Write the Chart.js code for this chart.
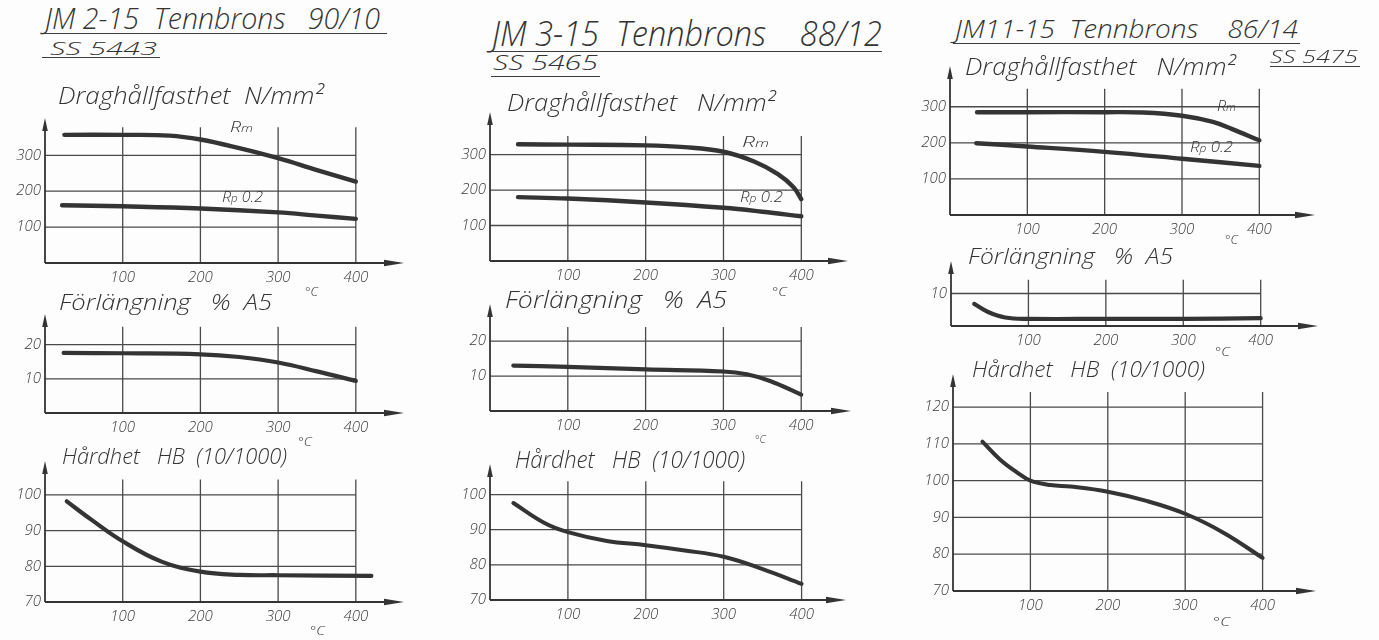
<!DOCTYPE html>
<html>
<head>
<meta charset="utf-8">
<script src="https://cdn.jsdelivr.net/npm/chart.js@4.4.1/dist/chart.umd.min.js"></script>
<style>
  html, body { margin: 0; padding: 0; background: #fdfdfd; }
  #page { position: relative; width: 1379px; height: 640px; overflow: hidden; background: #fdfdfd; }
  #page canvas { position: absolute; }
  .t { position: absolute; font-family: "Open Sans", "DejaVu Sans", sans-serif; font-style: italic; font-weight: 300;
       color: #333; white-space: nowrap; line-height: 1; transform-origin: 0 50%; }
  .u { position: absolute; height: 0; border-top: 1.6px solid #3d3d3d; }
  .sub { font-size: 0.72em; }
</style>
</head>
<body>
<div id="page"></div>
<script>
// ---- axis ticks ----
const tempTicks      = [100, 200, 300, 400];          // °C
const strengthTicks  = [100, 200, 300];               // N/mm²
const elongTicks     = [10, 20];                      // % A5
const elongTicksJM11 = [10];
const hardTicks      = [70, 80, 90, 100];             // HB
const hardTicksJM11  = [70, 80, 90, 100, 110, 120];

// ---- JM 2-15 Tennbrons 90/10 ----
const jm2RmTemp = [25, 100, 160, 200, 250, 300, 350, 400];
const jm2RmVal  = [357, 357, 355, 344, 320, 292, 259, 227];
const jm2RpTemp = [22, 100, 200, 300, 350, 400];
const jm2RpVal  = [161, 158, 152, 141, 132, 123];
const jm2ElTemp = [24, 100, 200, 250, 300, 350, 400];
const jm2ElVal  = [17.6, 17.5, 17.2, 16.4, 14.8, 12.2, 9.4];
const jm2HbTemp = [28, 60, 100, 150, 200, 250, 300, 420];
const jm2HbVal  = [98.2, 93, 87, 81.3, 78.5, 77.6, 77.5, 77.3];

// ---- JM 3-15 Tennbrons 88/12 ----
const jm3RmTemp = [36, 100, 200, 250, 300, 340, 370, 390, 400];
const jm3RmVal  = [329, 328, 326, 321, 308, 280, 245, 208, 174];
const jm3RpTemp = [36, 100, 200, 300, 350, 400];
const jm3RpVal  = [180, 176, 165, 150, 139, 126];
const jm3ElTemp = [30, 100, 200, 300, 330, 360, 400];
const jm3ElVal  = [13, 12.6, 11.9, 11.3, 10.5, 8.6, 4.7];
const jm3HbTemp = [30, 70, 100, 150, 200, 250, 300, 350, 400];
const jm3HbVal  = [97.6, 91.9, 89.3, 86.8, 85.6, 84.1, 82.3, 78.8, 74.6];

// ---- JM11-15 Tennbrons 86/14 ----
const jm11RmTemp = [35, 100, 200, 250, 300, 340, 365, 400];
const jm11RmVal  = [285, 285, 285, 284, 275, 258, 238, 207];
const jm11RpTemp = [34, 100, 200, 300, 400];
const jm11RpVal  = [199, 190, 175, 156, 136];
const jm11ElTemp = [30, 48, 70, 100, 200, 300, 400];
const jm11ElVal  = [6.8, 4.3, 2.6, 2.2, 2.2, 2.2, 2.4];
const jm11HbTemp = [38, 61, 83, 100, 126, 152, 200, 250, 300, 350, 400];
const jm11HbVal  = [110.6, 105.7, 102.2, 100, 98.8, 98.4, 97, 94.5, 91, 85.8, 79];

const INK  = '#343434';
const GRID = '#4a4a4a';
const FONT = '"Open Sans", "DejaVu Sans", sans-serif';
const page = document.getElementById('page');

// grid confined to 0–400 °C, plus arrowed axes
const framePlugin = {
  id: 'frame',
  beforeDatasetsDraw(chart, args, opts) {
    const { ctx } = chart;
    const x = chart.scales.x, y = chart.scales.y;
    const xL = x.getPixelForValue(0), xR = x.getPixelForValue(400);
    const yB = y.getPixelForValue(y.min), yT = y.getPixelForValue(opts.gridTop);
    ctx.save();
    ctx.strokeStyle = GRID;
    ctx.lineWidth = 1.3;
    ctx.beginPath();
    opts.yTicks.forEach(v => {
      if (v > y.min) {
        const py = y.getPixelForValue(v);
        ctx.moveTo(xL, py); ctx.lineTo(xR, py);
      }
    });
    tempTicks.forEach(v => {
      const px = x.getPixelForValue(v);
      ctx.moveTo(px, yB); ctx.lineTo(px, yT);
    });
    ctx.stroke();

    const xEnd = x.getPixelForValue(x.max), yTop = y.getPixelForValue(y.max);
    ctx.strokeStyle = INK;
    ctx.lineWidth = 1.8;
    ctx.beginPath();
    ctx.moveTo(xL, yB); ctx.lineTo(xEnd - 12, yB);
    ctx.moveTo(xL, yB); ctx.lineTo(xL, yTop + 8);
    ctx.stroke();
    ctx.fillStyle = INK;
    ctx.beginPath();
    ctx.moveTo(xEnd, yB); ctx.lineTo(xEnd - 20, yB - 3.2); ctx.lineTo(xEnd - 20, yB + 3.2); ctx.closePath();
    ctx.fill();
    ctx.beginPath();
    ctx.moveTo(xL, yTop); ctx.lineTo(xL - 2.8, yTop + 13); ctx.lineTo(xL + 2.8, yTop + 13); ctx.closePath();
    ctx.fill();
    ctx.restore();
  }
};

function series(temps, vals, width) {
  return {
    data: temps.map((t, i) => ({ x: t, y: vals[i] })),
    borderColor: INK,
    borderWidth: width,
    pointRadius: 0,
    fill: false,
    tension: 0.4,
    borderCapStyle: 'round',
    borderJoinStyle: 'round'
  };
}

// one small diagram: x0/y0 = pixel of the origin, sx/sy = pixels per unit
function diagram(g, yTicks, datasets) {
  const AXW = 48, AXH = 30, PADT = 2, PADR = 4;
  const plotW = g.xMax * g.sx;
  const plotH = (g.yMax - g.yMin) * g.sy;
  const W = Math.round(AXW + plotW + PADR), H = Math.round(PADT + plotH + AXH);
  const c = document.createElement('canvas');
  c.width = W; c.height = H;
  c.style.width = W + 'px'; c.style.height = H + 'px';
  c.style.left = (g.x0 - AXW) + 'px';
  c.style.top = (g.y0 - plotH - PADT) + 'px';
  page.appendChild(c);
  const tickFont = { family: FONT, size: 15, style: 'italic', weight: 300 };
  new Chart(c, {
    type: 'line',
    data: { datasets },
    options: {
      responsive: false,
      animation: false,
      events: [],
      layout: { padding: { top: PADT, right: PADR, left: 0, bottom: 0 } },
      plugins: { legend: { display: false }, tooltip: { enabled: false }, frame: { gridTop: g.gridTop, yTicks } },
      scales: {
        x: {
          type: 'linear', min: 0, max: g.xMax,
          grid: { display: false, drawTicks: false }, border: { display: false },
          afterBuildTicks: s => { s.ticks = tempTicks.map(v => ({ value: v })); },
          afterFit: s => { s.height = AXH; },
          ticks: { padding: 6, font: tickFont, color: '#3a3a3a', maxRotation: 0, autoSkip: false }
        },
        y: {
          type: 'linear', min: g.yMin, max: g.yMax,
          grid: { display: false, drawTicks: false }, border: { display: false },
          afterBuildTicks: s => { s.ticks = yTicks.map(v => ({ value: v })); },
          afterFit: s => { s.width = AXW; },
          ticks: { padding: 4, font: tickFont, color: '#3a3a3a', autoSkip: false }
        }
      }
    },
    plugins: [framePlugin]
  });
}

// hand-lettered captions, stretched to their drawn width
function put(html, x, cy, size, width) {
  const d = document.createElement('div');
  d.className = 't';
  d.innerHTML = html;
  d.style.fontSize = size + 'px';
  d.style.left = x + 'px';
  d.style.top = (cy - size * 0.53) + 'px';
  page.appendChild(d);
  if (width) {
    const w = d.getBoundingClientRect().width;
    d.style.transform = 'scaleX(' + (width / w) + ')';
  }
}
function rule(x1, x2, y) {
  const d = document.createElement('div');
  d.className = 'u';
  d.style.left = x1 + 'px'; d.style.width = (x2 - x1) + 'px'; d.style.top = y + 'px';
  page.appendChild(d);
}

// ===== JM 2-15 =====
diagram({ x0: 44.5, sx: 0.776, y0: 262.5, sy: 0.385, yMin: 0, yMax: 404, gridTop: 378, xMax: 462 },
  strengthTicks, [series(jm2RmTemp, jm2RmVal, 4.4), series(jm2RpTemp, jm2RpVal, 4.4)]);
diagram({ x0: 44.5, sx: 0.776, y0: 413, sy: 3.8, yMin: 0, yMax: 29, gridTop: 25.3, xMax: 462 },
  elongTicks, [series(jm2ElTemp, jm2ElVal, 4.2)]);
diagram({ x0: 44.5, sx: 0.776, y0: 602, sy: 3.85, yMin: 70, yMax: 109.5, gridTop: 104.3, xMax: 462 },
  hardTicks, [series(jm2HbTemp, jm2HbVal, 4.2)]);

put('JM 2-15&nbsp; Tennbrons&nbsp;&nbsp; 90/10', 45, 19, 30, 335);
rule(42, 387, 33);
put('SS 5443', 50, 48.5, 18, 107);
rule(42, 160, 57);
put('Draghållfasthet&nbsp; N/mm²', 58, 96, 24, 265);
put('R<span class="sub">m</span>', 230, 127, 15, 23);
put('R<span class="sub">p</span> 0.2', 222, 197, 14, 41);
put('°C', 305, 292, 13, 13);
put('Förlängning&nbsp;&nbsp; %&nbsp; A5', 59, 302, 22, 213);
put('°C', 298, 442, 12, 14);
put('Hårdhet&nbsp;&nbsp; HB&nbsp; (10/1000)', 62, 456, 22, 225);
put('°C', 310, 631, 13, 15);

// ===== JM 3-15 =====
diagram({ x0: 490, sx: 0.7775, y0: 261, sy: 0.38, yMin: 0, yMax: 420, gridTop: 352, xMax: 460 },
  strengthTicks, [series(jm3RmTemp, jm3RmVal, 4.4), series(jm3RpTemp, jm3RpVal, 4.4)]);
diagram({ x0: 489.5, sx: 0.778, y0: 411.5, sy: 3.87, yMin: 0, yMax: 30.6, gridTop: 24, xMax: 464 },
  elongTicks, [series(jm3ElTemp, jm3ElVal, 4.2)]);
diagram({ x0: 489.5, sx: 0.778, y0: 600, sy: 3.8, yMin: 70, yMax: 108.7, gridTop: 103.8, xMax: 457 },
  hardTicks, [series(jm3HbTemp, jm3HbVal, 4)]);

put('JM 3-15&nbsp; Tennbrons&nbsp;&nbsp;&nbsp; 88/12', 492, 34, 34, 390);
rule(490, 882, 51);
put('SS 5465', 493, 63.5, 20, 105);
rule(491, 600, 76);
put('Draghållfasthet&nbsp;&nbsp; N/mm²', 507, 103, 24, 268);
put('R<span class="sub">m</span>', 742, 142, 15, 27);
put('R<span class="sub">p</span> 0.2', 740, 197, 14, 43);
put('°C', 772, 292, 13, 15);
put('Förlängning&nbsp;&nbsp; %&nbsp; A5', 505, 300, 23, 222);
put('°C', 755, 439, 11, 11);
put('Hårdhet&nbsp;&nbsp; HB&nbsp; (10/1000)', 515, 460, 24, 230);

// ===== JM11-15 =====
diagram({ x0: 950, sx: 0.7733, y0: 215.5, sy: 0.388, yMin: 0, yMax: 413, gridTop: 350, xMax: 472 },
  strengthTicks, [series(jm11RmTemp, jm11RmVal, 4.4), series(jm11RpTemp, jm11RpVal, 4.4)]);
diagram({ x0: 950.5, sx: 0.7733, y0: 326, sy: 3.8, yMin: 0, yMax: 20, gridTop: 14.2, xMax: 474 },
  elongTicksJM11, [series(jm11ElTemp, jm11ElVal, 4.2)]);
diagram({ x0: 952.5, sx: 0.7733, y0: 591, sy: 3.86, yMin: 70, yMax: 129, gridTop: 124.1, xMax: 469 },
  hardTicksJM11, [series(jm11HbTemp, jm11HbVal, 4)]);

put('JM11-15&nbsp; Tennbrons&nbsp;&nbsp;&nbsp; 86/14', 955, 29, 25, 343);
rule(953, 1300, 43);
put('SS 5475', 1270, 56.5, 18, 88);
rule(1270, 1360, 66);
put('Draghållfasthet&nbsp;&nbsp; N/mm²', 965, 67, 24, 270);
put('R<span class="sub">m</span>', 1217, 106, 15, 19);
put('R<span class="sub">p</span> 0.2', 1190, 147, 14, 43);
put('°C', 1225, 240, 12, 13);
put('Förlängning&nbsp;&nbsp; %&nbsp; A5', 968, 256, 22, 205);
put('°C', 1215, 352, 12, 15);
put('Hårdhet&nbsp;&nbsp; HB&nbsp; (10/1000)', 972, 369, 22, 233);
put('°C', 1213, 622, 13, 17);
</script>
</body>
</html>
